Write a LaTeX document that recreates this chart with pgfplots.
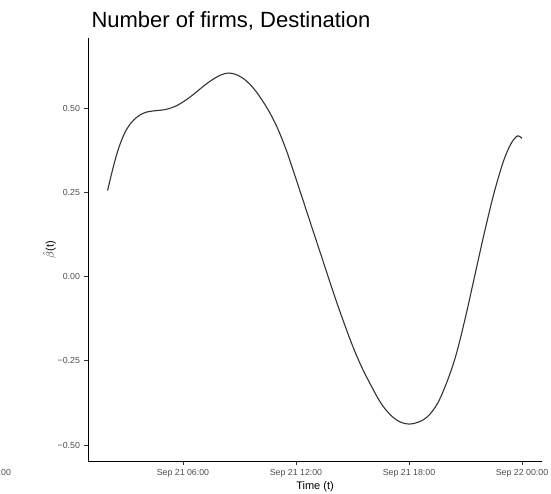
\documentclass[border=0pt]{standalone}
\usepackage{pgfplots}
\pgfplotsset{compat=1.18}
\usepackage{fontspec}
\setmainfont{Liberation Sans}
\definecolor{ggtext}{HTML}{4D4D4D}
\definecolor{ggline}{HTML}{333333}
\begin{document}
\begin{tikzpicture}[x=1pt,y=1pt]
\useasboundingbox (-88,-32) rectangle (463,461);
\begin{axis}[
  at={(0,0)}, anchor=south west,
  scale only axis, width=454pt, height=423pt,
  xmin=0.96, xmax=25.06, ymin=-0.5475, ymax=0.708,
  axis x line*=bottom, axis y line*=left,
  axis line style={-, black, line width=0.8pt},
  tick align=outside, major tick length=3.5pt,
  tick style={ggline, line width=0.8pt},
  xtick={6,12,18,24},
  xticklabels={Sep 21 06:00, Sep 21 12:00, Sep 21 18:00, Sep 22 00:00},
  ytick={-0.5,-0.25,0,0.25,0.5},
  yticklabels={−0.50, −0.25, 0.00, 0.25, 0.50},
  tick label style={font=\fontsize{8.8}{10}\selectfont, text=ggtext},
  xticklabel style={yshift=-1.5pt},
  yticklabel style={xshift=-1pt},
  xlabel={Time (t)},
  xlabel style={font=\fontsize{11}{13}\selectfont, yshift=3pt},
  ylabel={$\hat{\beta}$(t)},
  ylabel style={font=\fontsize{11}{13}\selectfont, yshift=-5pt},
  clip=false,
]
\addplot[ggline, line width=1.1pt, smooth, tension=0.55] coordinates {
(2.0,0.255) (2.3,0.325) (2.6,0.383) (2.9,0.425) (3.2,0.453) (3.6,0.475) (4.0,0.487)
(4.5,0.492) (5.0,0.495) (5.5,0.503) (6.0,0.518) (6.5,0.538) (7.0,0.561)
(7.5,0.582) (8.0,0.598) (8.4,0.604) (8.8,0.600) (9.2,0.588) (9.6,0.568)
(10.0,0.540) (10.5,0.497) (11.0,0.443) (11.5,0.373) (12.0,0.290) (12.5,0.205)
(13.0,0.120) (13.5,0.035) (14.0,-0.050) (14.5,-0.130) (15.0,-0.205)
(15.5,-0.270) (16.0,-0.325) (16.5,-0.375) (17.0,-0.410) (17.5,-0.431)
(18.0,-0.438) (18.5,-0.432) (19.0,-0.415) (19.5,-0.378) (20.0,-0.315)
(20.5,-0.232) (21.0,-0.120) (21.5,0.005) (22.0,0.130) (22.5,0.245)
(23.0,0.340) (23.4,0.393) (23.75,0.417) (24.0,0.410)
};
\node[anchor=base west, font=\fontsize{22}{26}\selectfont, text=black]
  at (rel axis cs:0,1) [yshift=10.5pt] {Number of firms, Destination};
\end{axis}
\node[anchor=east, font=\fontsize{8.8}{10}\selectfont, text=ggtext] at (-73.5,-12.5) {Sep 22 00:00};
\end{tikzpicture}
\end{document}
